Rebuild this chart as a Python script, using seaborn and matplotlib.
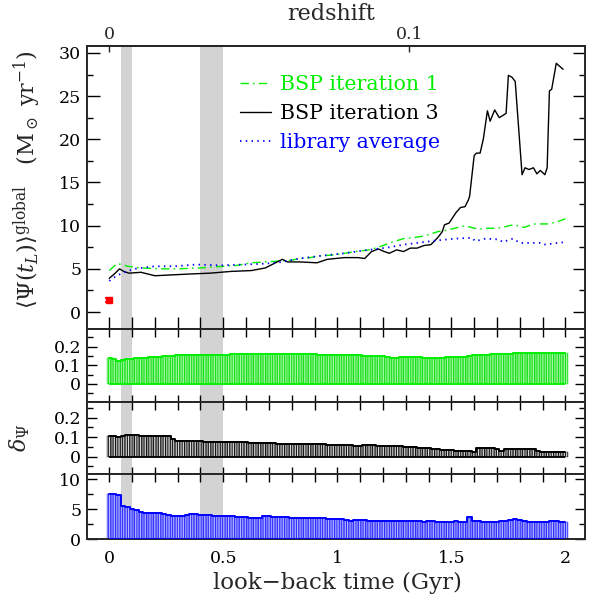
import numpy as np
import pandas as pd
import matplotlib
matplotlib.use("Agg")
import matplotlib.pyplot as plt
from matplotlib.ticker import MultipleLocator, FuncFormatter
import seaborn as sns

# ---------------- data ----------------
# top panel: global SFR vs look-back time (Gyr)
t_iter1 = [0.0, 0.033, 0.06, 0.079, 0.139, 0.23, 0.3, 0.396, 0.45, 0.502, 0.56, 0.623, 0.68, 0.744, 0.8,
           0.835, 0.88, 0.926, 0.98, 1.03, 1.08, 1.14, 1.18, 1.23, 1.29, 1.33, 1.38, 1.44, 1.50, 1.56,
           1.60, 1.62, 1.66, 1.70, 1.74, 1.77, 1.82, 1.86, 1.92, 1.96, 2.0]
sfr_iter1 = [4.8, 5.6, 5.5, 5.3, 5.1, 5.0, 5.0, 5.1, 5.2, 5.3, 5.4, 5.7, 5.8, 5.9, 6.0,
             6.2, 6.3, 6.5, 6.6, 6.8, 7.0, 7.2, 7.5, 8.0, 8.5, 8.6, 8.8, 9.3, 9.6, 10.0,
             9.7, 9.6, 9.7, 9.7, 9.9, 10.1, 9.8, 10.2, 10.2, 10.4, 10.8]

t_iter3 = [0.0, 0.026, 0.045, 0.064, 0.086, 0.139, 0.2, 0.275, 0.351, 0.442, 0.533, 0.623, 0.684, 0.714,
           0.759, 0.782, 0.835, 0.911, 0.956, 1.03, 1.09, 1.12, 1.15, 1.18, 1.206, 1.228, 1.26, 1.29,
           1.32, 1.35, 1.38, 1.41, 1.44, 1.46, 1.47, 1.49, 1.52, 1.54, 1.56, 1.575, 1.58, 1.60, 1.61,
           1.626, 1.64, 1.658, 1.67, 1.69, 1.71, 1.74, 1.75, 1.765, 1.78, 1.81, 1.823, 1.84, 1.86,
           1.875, 1.89, 1.91, 1.92, 1.93, 1.94, 1.96, 1.99]
sfr_iter3 = [3.9, 4.5, 5.0, 4.7, 4.5, 4.6, 4.2, 4.3, 4.4, 4.5, 4.7, 4.8, 5.1, 5.5,
             6.1, 5.8, 5.8, 5.7, 6.1, 6.3, 6.3, 6.2, 7.0, 7.3, 7.0, 6.8, 7.2, 7.0,
             7.4, 7.4, 7.7, 7.8, 8.6, 9.3, 10.1, 10.3, 11.5, 12.1, 12.2, 13.0, 13.4, 18.1, 18.4,
             18.4, 20.0, 23.3, 22.1, 23.4, 22.5, 23.0, 27.4, 27.2, 26.7, 15.9, 16.7, 16.5, 16.7,
             16.0, 16.4, 15.9, 16.7, 25.6, 25.8, 28.8, 28.1]

t_lib = [0.0, 0.026, 0.056, 0.109, 0.2, 0.29, 0.38, 0.489, 0.593, 0.684, 0.759, 0.835, 0.926, 1.03,
         1.14, 1.23, 1.29, 1.38, 1.44, 1.52, 1.59, 1.605, 1.65, 1.71, 1.725, 1.77, 1.80, 1.89, 1.905, 2.0]
sfr_lib = [3.6, 4.1, 4.5, 5.0, 5.3, 5.3, 5.5, 5.4, 5.5, 5.6, 5.8, 6.2, 6.5, 6.8,
           7.2, 7.5, 7.8, 8.1, 8.3, 8.5, 8.6, 8.2, 8.5, 8.4, 8.1, 8.5, 8.0, 8.0, 7.8, 8.1]

# observed point at t = 0
obs_t = [0.0]
obs_sfr = [1.4]
obs_err = [0.28]

# shaded look-back time intervals
bands = [(0.05, 0.10), (0.40, 0.50)]

# redshift axis ticks
z_ticks = [0.0, 0.1]
z_tick_labels = ["0", "0.1"]
t_at_z01 = 1.315  # look-back time (Gyr) at z = 0.1

# lower panels: delta_Psi on a regular 0.02 Gyr grid
t_grid = np.round(np.arange(0, 2.0001, 0.02), 2)
delta_iter1 = [0.139, 0.135, 0.124, 0.130, 0.133, 0.135, 0.137, 0.139, 0.141, 0.143,
               0.144, 0.146, 0.148, 0.150, 0.151, 0.153, 0.153, 0.154, 0.154, 0.154,
               0.154, 0.155, 0.155, 0.155, 0.156, 0.156, 0.157, 0.158, 0.160, 0.159,
               0.159, 0.160, 0.160, 0.161, 0.161, 0.160, 0.160, 0.161, 0.160, 0.160,
               0.160, 0.160, 0.159, 0.158, 0.158, 0.158, 0.156, 0.155, 0.156, 0.155,
               0.154, 0.153, 0.155, 0.155, 0.155, 0.154, 0.152, 0.151, 0.150, 0.151,
               0.149, 0.146, 0.141, 0.141, 0.142, 0.142, 0.142, 0.142, 0.142, 0.141,
               0.141, 0.139, 0.137, 0.140, 0.143, 0.146, 0.145, 0.144, 0.146, 0.150,
               0.154, 0.155, 0.155, 0.157, 0.159, 0.161, 0.160, 0.162, 0.163, 0.164,
               0.165, 0.164, 0.165, 0.166, 0.166, 0.167, 0.167, 0.168, 0.168, 0.166,
               0.165]
delta_iter3 = [0.107, 0.105, 0.103, 0.106, 0.109, 0.110, 0.109, 0.108, 0.107, 0.107,
               0.107, 0.107, 0.107, 0.104, 0.090, 0.080, 0.079, 0.079, 0.079, 0.079,
               0.079, 0.078, 0.077, 0.076, 0.075, 0.074, 0.074, 0.074, 0.074, 0.074,
               0.073, 0.071, 0.069, 0.069, 0.069, 0.069, 0.068, 0.067, 0.066, 0.065,
               0.064, 0.064, 0.064, 0.064, 0.064, 0.064, 0.063, 0.063, 0.062, 0.062,
               0.062, 0.060, 0.059, 0.058, 0.057, 0.057, 0.059, 0.058, 0.058, 0.057,
               0.057, 0.056, 0.055, 0.054, 0.053, 0.052, 0.050, 0.048, 0.046, 0.045,
               0.044, 0.042, 0.040, 0.037, 0.034, 0.032, 0.030, 0.029, 0.028, 0.027,
               0.026, 0.046, 0.047, 0.047, 0.046, 0.039, 0.030, 0.040, 0.042, 0.040,
               0.038, 0.039, 0.040, 0.040, 0.030, 0.026, 0.025, 0.024, 0.023, 0.023,
               0.022]
delta_lib = [7.6, 7.5, 7.3, 5.6, 5.3, 5.1, 4.8, 4.6, 4.4, 4.3,
             4.3, 4.3, 4.2, 4.0, 3.9, 3.9, 3.9, 4.1, 4.2, 4.2,
             4.0, 4.0, 4.0, 3.95, 3.9, 3.9, 3.85, 3.8, 3.75, 3.7,
             3.7, 3.6, 3.55, 3.6, 3.8, 3.8, 3.75, 3.7, 3.7, 3.65,
             3.6, 3.55, 3.5, 3.55, 3.6, 3.6, 3.55, 3.5, 3.45, 3.4,
             3.4, 3.3, 3.15, 3.1, 3.15, 3.2, 3.15, 3.1, 3.05, 3.05,
             3.05, 3.0, 3.05, 3.05, 3.0, 3.0, 3.0, 3.05, 3.0, 2.95,
             3.0, 3.0, 2.9, 2.9, 2.95, 2.95, 3.1, 2.95, 2.9, 3.7,
             3.05, 3.0, 2.95, 2.95, 2.95, 2.95, 3.0, 3.05, 3.2, 3.3,
             3.2, 3.0, 2.95, 2.9, 2.9, 2.9, 2.95, 3.05, 3.0, 2.95,
             2.95]

# ---------------- style ----------------
sns.set_style("ticks")
plt.rcParams["font.family"] = ["DejaVu Serif"]
plt.rcParams["mathtext.fontset"] = "dejavuserif"
plt.rcParams["axes.linewidth"] = 1.4
plt.rcParams["hatch.linewidth"] = 0.8

GREEN = "#00ee00"
BLACK = "#000000"
BLUE = "#0000ff"
BAND = "#d3d3d3"

W, H = 597, 602
fig = plt.figure(figsize=(W / 100, H / 100), dpi=100)

def fx(px):
    return px / W

def fy(py):
    return 1 - py / H

left, right = 86.7, 585.0
rows = [(46.0, 329.3), (329.3, 401.7), (401.7, 474.3), (474.3, 539.3)]
axes = []
for (top, bot) in rows:
    axes.append(fig.add_axes([fx(left), fy(bot), fx(right - left), (bot - top) / H]))
ax0, ax1, ax2, ax3 = axes

XLIM = (-0.099, 2.086)
fmt = FuncFormatter(lambda v, _: f"{v:g}")

for ax in axes:
    ax.set_xlim(*XLIM)
    for a, b in bands:
        ax.axvspan(a, b, color=BAND, lw=0, zorder=0)
    ax.xaxis.set_major_locator(MultipleLocator(0.5))
    ax.xaxis.set_minor_locator(MultipleLocator(0.1))
    ax.tick_params(which="both", direction="in", right=True, labelsize=12.5,
                   width=1.0, colors="black")
    ax.set_xlabel("")
    ax.set_ylabel("")

# ---- top panel ----
sns.lineplot(x=t_iter1, y=sfr_iter1, ax=ax0, color=GREEN, lw=1.0, sort=False,
             estimator=None, dashes=False, label="BSP iteration 1", legend=False)
ax0.lines[-1].set_dashes((6, 3, 1.2, 3))
sns.lineplot(x=t_iter3, y=sfr_iter3, ax=ax0, color=BLACK, lw=1.0, sort=False,
             estimator=None, label="BSP iteration 3", legend=False)
sns.lineplot(x=t_lib, y=sfr_lib, ax=ax0, color=BLUE, lw=1.3, sort=False,
             estimator=None, label="library average", legend=False)
ax0.lines[-1].set_linestyle((0, (0.8, 2.4)))
ax0.errorbar(obs_t, obs_sfr, yerr=obs_err, fmt="s", ms=4, color="red",
             ecolor="red", elinewidth=2.2, capsize=3, capthick=1.2, zorder=5)

ax0.set_ylim(-2.0, 30.8)
ax0.yaxis.set_major_locator(MultipleLocator(5))
ax0.yaxis.set_minor_locator(MultipleLocator(2.5))
ax0.yaxis.set_major_formatter(fmt)
ax0.tick_params(axis="y", which="major", length=9, pad=4)
ax0.tick_params(axis="y", which="minor", length=4.5)
ax0.tick_params(axis="x", which="both", length=9, top=False, labelbottom=False)

leg = ax0.legend(loc="upper left", bbox_to_anchor=((240 - left) / (right - left), 0.898),
                 frameon=False, fontsize=14.8, handlelength=1.5, handletextpad=0.45,
                 labelspacing=0.49, borderpad=0, borderaxespad=0, labelcolor="linecolor")

sec = ax0.secondary_xaxis("top", functions=(lambda t: t * 0.1 / t_at_z01,
                                             lambda z: z * t_at_z01 / 0.1))
sec.set_xticks(z_ticks)
sec.set_xticklabels(z_tick_labels)
sec.tick_params(direction="in", length=4.5, width=1.0, labelsize=12.5, pad=2)
sec.xaxis.set_minor_locator(matplotlib.ticker.NullLocator())

# ---- lower panels ----
panels = [
    (ax1, delta_iter1, GREEN, "#a8f7a8", "#18e018", (-0.095, 0.293), 0.1, 0.05),
    (ax2, delta_iter3, BLACK, "#d8d8d8", "#151515", (-0.09, 0.282), 0.1, 0.05),
    (ax3, delta_lib, BLUE, "#b4b4ff", "#3030ff", (0.0, 10.8), 5, 2.5),
]
for ax, vals, c, fill, edge, ylim, maj, mnr in panels:
    ax.bar(t_grid, vals, width=0.02, color=fill, edgecolor=edge, linewidth=0.3,
           hatch="|" * 7, zorder=2)
    ax.hlines(0, t_grid[0], t_grid[-1], color=c, lw=1.3, zorder=3)
    sns.lineplot(x=t_grid, y=vals, ax=ax, color=c, lw=1.4, drawstyle="steps-mid",
                 estimator=None, legend=False, zorder=3)
    ax.set_ylim(*ylim)
    ax.yaxis.set_major_locator(MultipleLocator(maj))
    ax.yaxis.set_minor_locator(MultipleLocator(mnr))
    ax.yaxis.set_major_formatter(fmt)
    ax.tick_params(axis="y", which="major", length=7.5, pad=4)
    ax.tick_params(axis="y", which="minor", length=4.5)
    ax.tick_params(axis="x", which="both", length=5.4, top=True, labelbottom=False)
    ax.set_xlabel("")
    ax.set_ylabel("")

ax3.tick_params(axis="x", labelbottom=True, pad=8)
ax3.xaxis.set_major_formatter(fmt)

# ---- labels ----
fig.text(fx(331), fy(14), "redshift", ha="center", va="center", fontsize=16)
fig.text(fx(27), fy(180),
         r"$\langle\Psi(t_L)\rangle^{\rm global}$   (M$_\odot$ yr$^{-1}$)",
         rotation=90, ha="center", va="center", fontsize=16)
fig.text(fx(20), fy(438), r"$\delta_\Psi$", rotation=90, ha="center", va="center", fontsize=16)
fig.text(fx(337), fy(583), "look\u2212back time (Gyr)", ha="center", va="center", fontsize=16.5)

fig.savefig("out.png", dpi=100)
